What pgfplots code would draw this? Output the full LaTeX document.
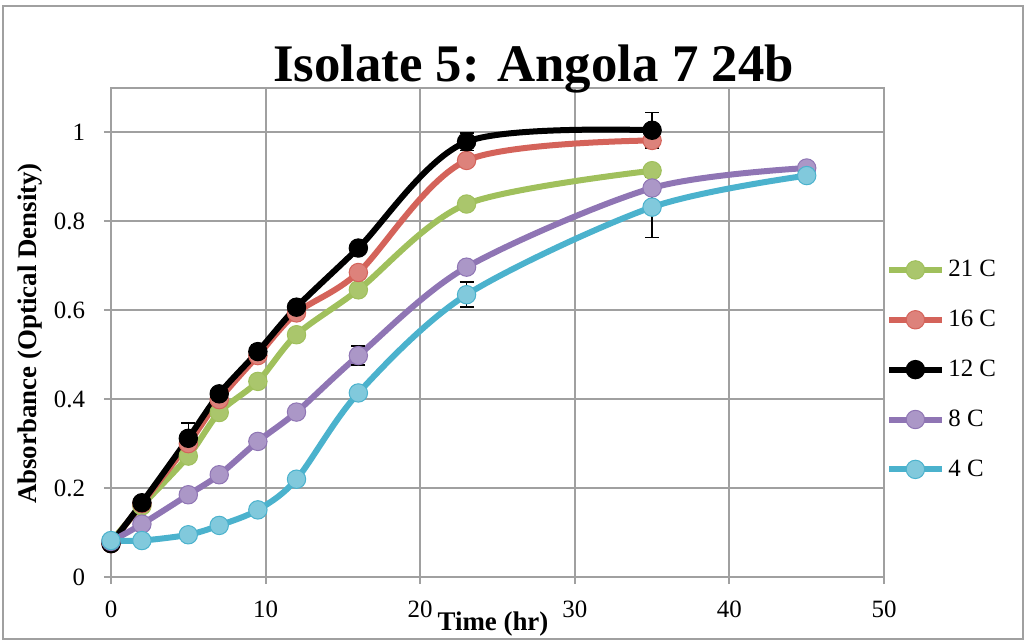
\documentclass[border=0pt]{standalone}
\usepackage{pgfplots}
\pgfplotsset{compat=1.18}
\usepackage{fontspec}
\setmainfont{Liberation Serif}
\definecolor{cgreen}{RGB}{160,192,92}
\definecolor{cred}{RGB}{212,99,90}
\definecolor{cpurple}{RGB}{143,117,180}
\definecolor{ccyan}{RGB}{75,178,205}
\definecolor{gridgray}{RGB}{160,160,160}
\begin{document}
\begin{tikzpicture}
\path[use as bounding box] (0bp,0bp) rectangle (514.5bp,320bp);
\draw[gridgray, line width=0.8bp] (1.5bp,0.5bp) rectangle (511.5bp,317bp);
\begin{axis}[
  at={(55.5bp,31.5bp)}, anchor=south west,
  scale only axis, width=386.5bp, height=244.5bp,
  xmin=0, xmax=50, ymin=0, ymax=1.1,
  xtick={0,10,20,30,40,50}, ytick={0,0.2,0.4,0.6,0.8,1},
  grid=major, grid style={gridgray, line width=1bp},
  axis line style={gridgray, line width=1bp},
  tick style={gridgray, line width=1bp},
  major tick length=3.5bp, tick align=outside,
  tick pos=left,
  /pgf/number format/assume math mode=true,
  ticklabel style={font=\fontsize{12.5}{14}\selectfont, text=black},
  xticklabel style={yshift=-5bp},
  yticklabel style={xshift=-6bp},
  every axis plot/.append style={line width=3bp, smooth, tension=0.5,
     mark=*, mark size=4.6bp},
  error bars/y dir=both, error bars/y explicit,
  error bars/error bar style={black, line width=0.8bp},
  error bars/error mark options={rotate=90, mark size=3.5bp, black, line width=0.8bp},
  legend cell align=left,
  legend style={at={(1.0,0.665)}, anchor=north west, draw=none, fill=none,
     font=\fontsize{12.5}{14}\selectfont, row sep=11.2bp, inner xsep=1bp},
  legend image code/.code={\draw[mark repeat=2,mark phase=2,#1]
     plot coordinates {(0bp,0bp) (13bp,0bp) (26bp,0bp)};},
]
\addplot[cgreen, mark options={solid, line width=0.5bp, fill=cgreen!90!white, draw=cgreen}] coordinates {
 (0,0.08) +- (0,0.005) (2,0.16) +- (0,0.01) (5,0.272) +- (0,0.01) (7,0.37) +- (0,0.012)
 (9.5,0.44) +- (0,0.005) (12,0.545) +- (0,0.01) (16,0.646) +- (0,0.01)
 (23,0.839) +- (0,0.005) (35,0.914) +- (0,0.012)};
\addlegendentry{21 C}
\addplot[cred, mark options={solid, line width=0.5bp, fill=cred!80!white, draw=cred}] coordinates {
 (0,0.075) +- (0,0.005) (2,0.165) +- (0,0.005) (5,0.30) +- (0,0.01) (7,0.399) +- (0,0.01)
 (9.5,0.498) +- (0,0.01) (12,0.594) +- (0,0.01) (16,0.685) +- (0,0.01)
 (23,0.937) +- (0,0.01) (35,0.982) +- (0,0.012)};
\addlegendentry{16 C}
\addplot[black, mark options={solid, line width=0.5bp, fill=black, draw=black}] coordinates {
 (0,0.075) +- (0,0.005) (2,0.167) +- (0,0.005) (5,0.312) +- (0,0.035) (7,0.412) +- (0,0.008)
 (9.5,0.507) +- (0,0.015) (12,0.607) +- (0,0.008) (16,0.740) +- (0,0.008)
 (23,0.979) +- (0,0.02) (35,1.005) +- (0,0.04)};
\addlegendentry{12 C}
\addplot[cpurple, mark options={solid, line width=0.5bp, fill=cpurple!75!white, draw=cpurple}] coordinates {
 (0,0.08) +- (0,0.005) (2,0.119) +- (0,0.005) (5,0.185) +- (0,0.005) (7,0.23) +- (0,0.005)
 (9.5,0.305) +- (0,0.005) (12,0.371) +- (0,0.005) (16,0.498) +- (0,0.021)
 (23,0.697) +- (0,0.005) (35,0.875) +- (0,0.015) (45,0.92) +- (0,0.01)};
\addlegendentry{8 C}
\addplot[ccyan, mark options={solid, line width=0.5bp, fill=ccyan!70!white, draw=ccyan}] coordinates {
 (0,0.082) +- (0,0.005) (2,0.082) +- (0,0.005) (5,0.095) +- (0,0.005) (7,0.116) +- (0,0.005)
 (9.5,0.151) +- (0,0.01) (12,0.22) +- (0,0.005) (16,0.414) +- (0,0.005)
 (23,0.635) +- (0,0.028) (35,0.832) +- (0,0.068) (45,0.903) +- (0,0.01)};
\addlegendentry{4 C}
\end{axis}
\node[anchor=base, font=\bfseries\fontsize{26.5}{30}\selectfont, inner sep=0pt] at (266.75bp,279bp) {Isolate 5: Angola 7 24b};
\node[rotate=90, anchor=center, font=\bfseries\fontsize{13.5}{15}\selectfont, inner sep=0pt] at (15bp,153.25bp) {Absorbance (Optical Density)};
\node[anchor=base, font=\bfseries\fontsize{13.5}{15}\selectfont, inner sep=0pt] at (246.5bp,5bp) {Time (hr)};
\end{tikzpicture}
\end{document}
